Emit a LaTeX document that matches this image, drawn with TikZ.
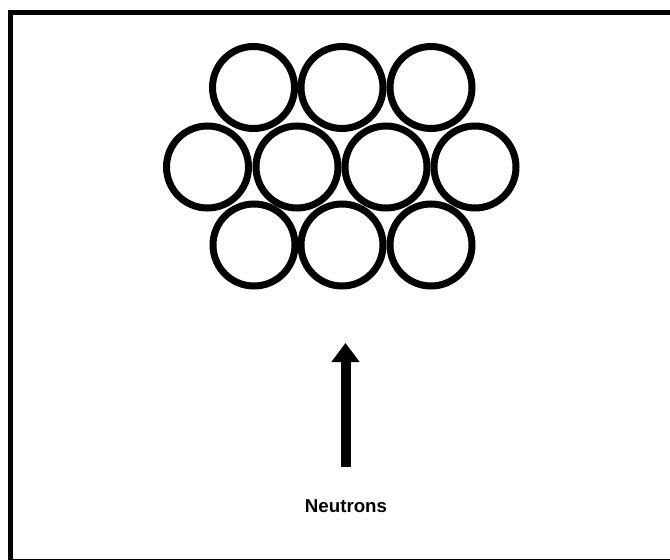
\documentclass[tikz,border=0pt]{standalone}
\usepackage{fontspec}
\setmainfont{Liberation Sans}
\usetikzlibrary{arrows.meta}

\begin{document}
\begin{tikzpicture}[x=1pt,y=-1pt]

		\def\rad{82pt}
		\def\lw{7pt}

		\tikzset{line/.style={draw,line width=\lw}}
		\tikzset{pin/.style={shape=circle,inner sep=0pt,minimum size=\rad}}
		\tikzset{arrow/.style={draw,line width=10pt,-{Triangle[width=27pt,length=19pt]}}}
		\tikzset{font=\fontsize{18.7}{22}\selectfont\bfseries}

		\useasboundingbox (0, 0) rectangle (670, 560);

		% Frame, cut off at the right and bottom.
		\begin{scope}
			\clip (0, 0) rectangle (670, 560);
			\draw[line width=5.5pt] (10.5, 12.5) rectangle (680, 562);
		\end{scope}

		% Top row.
		\node[line,pin] (p1) at (253.5, 87.5) {};
		\node[line,pin] (p2) at (342, 87.5) {};
		\node[line,pin] (p3) at (431, 87.5) {};

		% Middle row.
		\node[line,pin] (p4) at (207.5, 167) {};
		\node[line,pin] (p5) at (297, 167) {};
		\node[line,pin] (p6) at (386, 167) {};
		\node[line,pin] (p7) at (475, 167) {};

		% Bottom row.
		\node[line,pin] (p8) at (254, 245) {};
		\node[line,pin] (p9) at (342, 245) {};
		\node[line,pin] (p10) at (431, 245) {};

		% Incoming neutrons.
		\node[anchor=base] (label) at (346, 512) {Neutrons};
		\coordinate (tail) at (345.5, 467);
		\coordinate (tip) at (345.5, 343);
		\path[arrow] (tail) -- (tip);

	\end{tikzpicture}
\end{document}
